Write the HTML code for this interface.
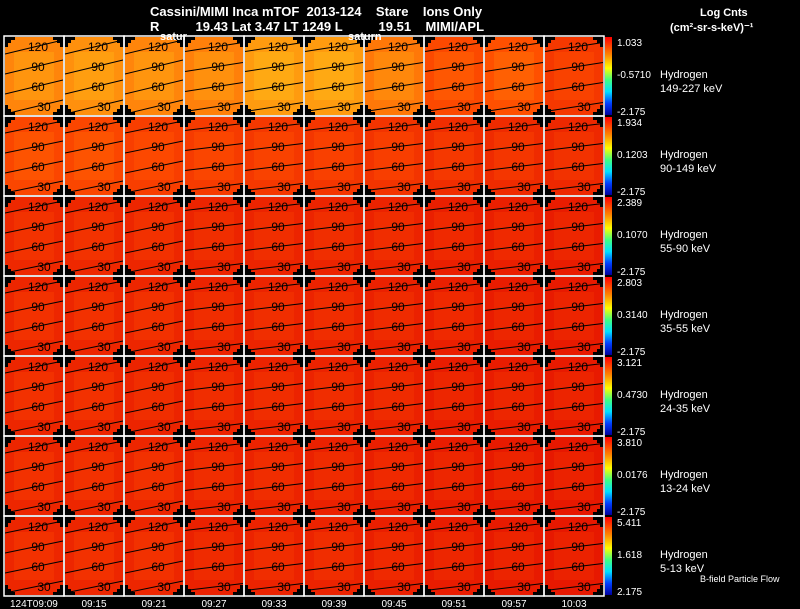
<!DOCTYPE html>
<html><head><meta charset="utf-8"><style>
html,body{margin:0;padding:0;background:#000;width:800px;height:609px;overflow:hidden}
svg{display:block}
text{font-family:"Liberation Sans",sans-serif}
</style></head><body>
<svg id="c" width="800" height="609" xmlns="http://www.w3.org/2000/svg">
<text x="150" y="16" fill="#fff" font-size="13" font-weight="bold" xml:space="preserve">Cassini/MIMI Inca mTOF  2013-124    Stare    Ions Only</text>
<text x="150" y="31" fill="#fff" font-size="13" font-weight="bold" xml:space="preserve">R          19.43 Lat 3.47 LT 1249 L          19.51    MIMI/APL</text>
<text x="700" y="16" fill="#fff" font-size="11" font-weight="bold">Log Cnts</text>
<text x="670" y="31" fill="#fff" font-size="11" font-weight="bold">(cm²-sr-s-keV)⁻¹</text>
<text x="700" y="582" fill="#fff" font-size="9">B-field Particle Flow</text>
<defs>
<linearGradient id="cb" x1="0" y1="1" x2="0" y2="0">
<stop offset="0" stop-color="#0000a0"/><stop offset="0.15" stop-color="#0040ff"/><stop offset="0.3" stop-color="#00e0ff"/><stop offset="0.45" stop-color="#40ff80"/><stop offset="0.6" stop-color="#ffff00"/><stop offset="0.78" stop-color="#ff8000"/><stop offset="1" stop-color="#ff0000"/>
</linearGradient>
</defs>
<g id="panels"></g>
</svg>
<script>
const times=["124T09:09","09:15","09:21","09:27","09:33","09:39","09:45","09:51","09:57","10:03"];
const energies=["149-227 keV","90-149 keV","55-90 keV","35-55 keV","24-35 keV","13-24 keV","5-13 keV"];
const cbTop=["1.033","1.934","2.389","2.803","3.121","3.810","5.411"];
const cbMid=["-0.5710","0.1203","0.1070","0.3140","0.4730","0.0176","1.618"];
const cbBot=["-2.175","-2.175","-2.175","-2.175","-2.175","-2.175","2.175"];
const row0=[0.6,0.64,0.6,0.58,0.68,0.68,0.55,0.36,0.4,0.26];
const row1=[0.34,0.34,0.3,0.28,0.26,0.25,0.24,0.2,0.19,0.17];
const row2=[0.17,0.17,0.16,0.15,0.15,0.15,0.14,0.12,0.12,0.1];
const row3=[0.16,0.16,0.16,0.14,0.15,0.14,0.13,0.12,0.1,0.09];
const row4=[0.16,0.16,0.15,0.14,0.14,0.14,0.13,0.1,0.1,0.09];
const row5=[0.16,0.16,0.16,0.14,0.14,0.13,0.12,0.1,0.09,0.08];
const row6=[0.16,0.16,0.16,0.13,0.14,0.14,0.12,0.1,0.09,0.08];
const rows=[row0,row1,row2,row3,row4,row5,row6];
const contours=["120","90","60","30"];
const NS="http://www.w3.org/2000/svg";
const X0=4,Y0=36,PW=60,PH=80;
const xPos=i=>X0+i*PW, yPos=j=>Y0+j*PH;
function cmap(v){
  const st=[[0,[225,10,0]],[0.4,[255,80,0]],[0.7,[255,160,16]],[1,[255,230,40]]];
  for(let k=1;k<st.length;k++){if(v<=st[k][0]){const a=st[k-1],b=st[k];const t=(v-a[0])/(b[0]-a[0]);
    return "rgb("+a[1].map((c,i)=>Math.round(c+(b[1][i]-c)*t)).join(",")+")";}}
  return "rgb(255,230,40)";
}
function el(tag,attrs,parent){const e=document.createElementNS(NS,tag);for(const k in attrs)e.setAttribute(k,attrs[k]);parent.appendChild(e);return e;}
const g=document.getElementById("panels");
rows.forEach((vals,j)=>{
  vals.forEach((v,i)=>{
    const x=xPos(i),y=yPos(j);
    const p=el("g",{},g);
    
    
    el("rect",{x:x+1,y:y+1,width:PW-2,height:PH-2,fill:cmap(v)},p);
    el("rect",{x:x+10,y:y+16,width:PW-20,height:PH-32,fill:cmap(Math.min(1,v+0.1)),opacity:0.6},p);
    [[x+1,y+1],[x+PW-7,y+1],[x+1,y+PH-7],[x+PW-7,y+PH-7]].forEach(c=>{
      el("rect",{x:c[0],y:c[1],width:6,height:6,fill:"#000"},p);
    });
    [[x+1,y+1],[x+PW-4,y+1],[x+1,y+PH-11],[x+PW-4,y+PH-11]].forEach(c=>{
      el("rect",{x:c[0],y:c[1],width:3,height:10,fill:"#000"},p);
    });
    [[x+1,y+1],[x+PW-11,y+1],[x+1,y+PH-4],[x+PW-11,y+PH-4]].forEach(c=>{
      el("rect",{x:c[0],y:c[1],width:10,height:3,fill:"#000"},p);
    });
    const slope=(i<3?14:9)-(j>0?2:0);
    contours.forEach((lab,k)=>{
      const mid=y+11+k*20;
      const yl=mid+slope/2, yr=mid-slope/2;
      const l=el("line",{x1:x+1,y1:yl,x2:x+PW-1,y2:yr,stroke:"#000","stroke-width":1},p);
      
      
      const t=el("text",{x:x+(k==3?40:34),y:mid+4,"font-size":12,fill:"#000","text-anchor":"middle"},p);
      t.textContent=lab;
    });
    el("rect",{x:x,y:y,width:PW,height:PH,fill:"none",stroke:"#fff","stroke-width":1.5},p);
  });
  const y=yPos(j);
  const cb=el("rect",{x:605,y:y+1,width:7,height:PH-2,fill:"url(#cb)"},g);
  
  
  const t1=el("text",{x:617,y:y+10,fill:"#fff","font-size":10},g);t1.textContent=cbTop[j];
  
  const t2=el("text",{x:617,y:y+42,fill:"#fff","font-size":10},g);t2.textContent=cbMid[j];
  
  const t3=el("text",{x:617,y:y+PH-1,fill:"#fff","font-size":10},g);t3.textContent=cbBot[j];
  
  const h=el("text",{x:660,y:y+42,fill:"#fff","font-size":11},g);h.textContent="Hydrogen";
  
  const e=el("text",{x:660,y:y+56,fill:"#fff","font-size":11},g);e.textContent=energies[j];
  
});
times.forEach((t,i)=>{
  const tx=el("text",{x:i==0?10:xPos(i)+30,y:607,fill:"#fff","font-size":10,"text-anchor":i==0?"start":"middle"},g);
  tx.textContent=t;
  
  
});
[[160,"satur"],[348,"saturn"]].forEach((s,k)=>{
  const tx=el("text",{x:s[0],y:40,fill:"#fff","font-size":11,"font-weight":"bold"},g);
  tx.textContent=s[1];
  
  
});
</script>
</body></html>
